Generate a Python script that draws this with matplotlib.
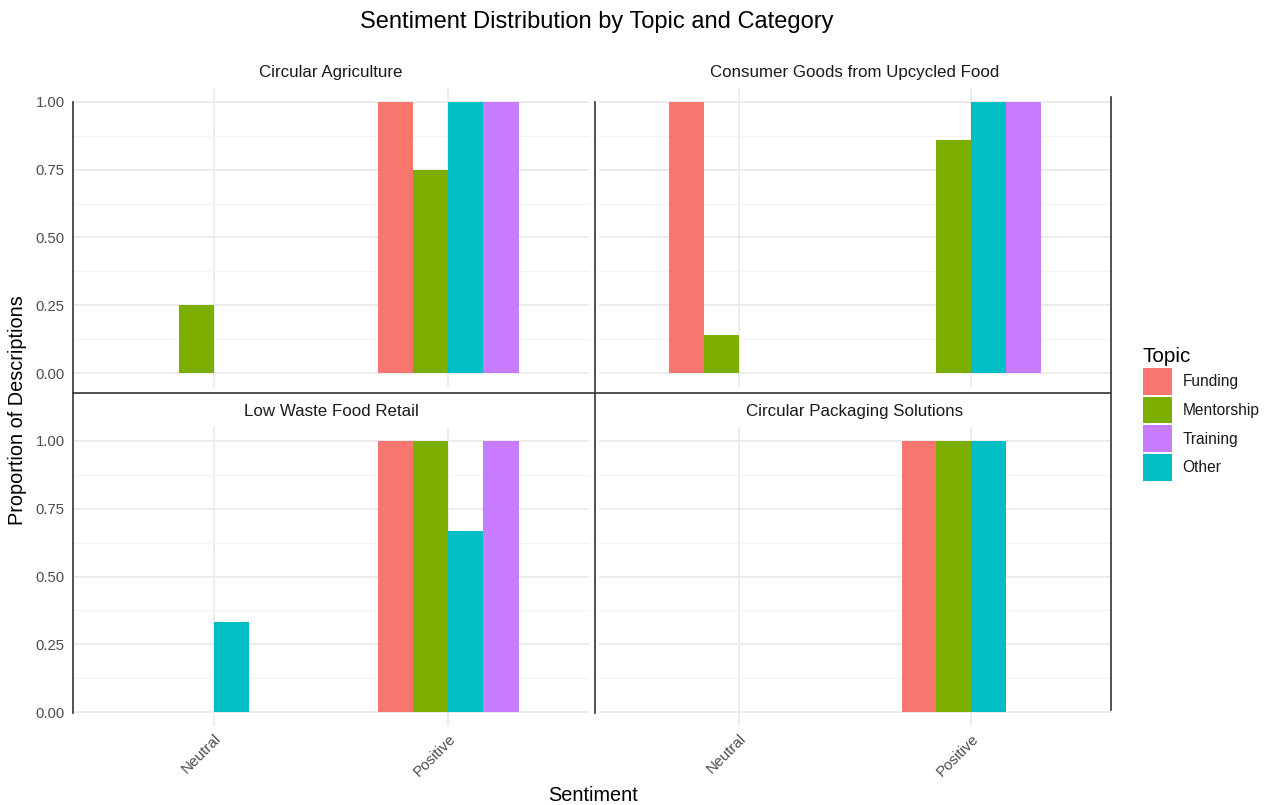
import numpy as np
import matplotlib
matplotlib.use('Agg')
import matplotlib.pyplot as plt
from matplotlib.patches import Patch
from matplotlib.lines import Line2D

plt.rcParams['font.family'] = ['Liberation Sans', 'DejaVu Sans']

# datos
sentiments = ['Neutral', 'Positive']
topics = ['Funding', 'Mentorship', 'Other', 'Training']      # orden de las barras (dodge)
legend_order = ['Funding', 'Mentorship', 'Training', 'Other']
colors = {'Funding': '#F8766D', 'Mentorship': '#7CAE00', 'Other': '#00BFC4', 'Training': '#C77CFF'}

panels = ['Circular Agriculture', 'Consumer Goods from Upcycled Food',
          'Low Waste Food Retail', 'Circular Packaging Solutions']

# proporciones [Neutral, Positive] por topic
circ_agri = {'Funding': [0, 1.0], 'Mentorship': [0.25, 0.75], 'Other': [0, 1.0], 'Training': [0, 1.0]}
consumer_goods = {'Funding': [1.0, 0], 'Mentorship': [0.143, 0.857], 'Other': [0, 1.0], 'Training': [0, 1.0]}
low_waste = {'Funding': [0, 1.0], 'Mentorship': [0, 1.0], 'Other': [0.333, 0.667], 'Training': [0, 1.0]}
circ_pack = {'Funding': [0, 1.0], 'Mentorship': [0, 1.0], 'Other': [0, 1.0], 'Training': [0, 0]}
panel_data = [circ_agri, consumer_goods, low_waste, circ_pack]

W, H = 1266, 805
fig = plt.figure(figsize=(W / 100, H / 100), dpi=100)


def rect(x0, y0, x1, y1):
    # pixeles (desde arriba) -> fraccion de figura
    return [x0 / W, 1 - y1 / H, (x1 - x0) / W, (y1 - y0) / H]


boxes = [rect(73, 88, 589, 387), rect(599, 88, 1111, 387),
         rect(73, 427, 589, 726), rect(599, 427, 1111, 726)]

x = np.arange(len(sentiments))
bw = 0.15
for i, (name, data, box) in enumerate(zip(panels, panel_data, boxes)):
    ax = fig.add_axes(box)
    for k, t in enumerate(topics):
        off = -0.3 + bw * (k + 0.5)
        ax.bar(x + off, data[t], width=bw, color=colors[t], zorder=3)
    ax.set_xlim(-0.6, 1.6)
    ax.set_ylim(-0.05, 1.05)
    ax.set_yticks([0, 0.25, 0.5, 0.75, 1.0])
    ax.set_yticks([0.125, 0.375, 0.625, 0.875], minor=True)
    ax.set_xticks(x)
    ax.grid(True, which='major', color='#EBEBEB', linewidth=1.3, zorder=0)
    ax.grid(True, which='minor', axis='y', color='#F3F3F3', linewidth=0.8, zorder=0)
    ax.tick_params(which='both', length=0)
    ax.tick_params(axis='y', pad=6)
    ax.tick_params(axis='x', pad=4)
    for s in ax.spines.values():
        s.set_visible(False)
    if i % 2 == 0:
        ax.set_yticklabels(['0.00', '0.25', '0.50', '0.75', '1.00'], fontsize=10.7, color='#4D4D4D')
    else:
        ax.set_yticklabels([])
    if i >= 2:
        ax.set_xticklabels(sentiments, rotation=45, ha='right', rotation_mode='anchor',
                           fontsize=11, color='#4D4D4D')
    else:
        ax.set_xticklabels([])
    ax.set_title(name, fontsize=12.2, color='#1A1A1A', pad=8)

# lineas negras entre paneles
def px(xp, yp):
    return xp / W, 1 - yp / H

line_color = '#333333'
for (xa, ya), (xb, yb) in [((73, 102), (73, 713)), ((595, 102), (595, 713)),
                           ((1111, 97), (1111, 710)), ((73, 393), (1110, 393))]:
    p0, p1 = px(xa, ya), px(xb, yb)
    fig.add_artist(Line2D([p0[0], p1[0]], [p0[1], p1[1]], color=line_color, linewidth=1.2))

fig.text(597 / W, 1 - 22 / H, 'Sentiment Distribution by Topic and Category',
         ha='center', va='center', fontsize=17)
fig.text(593 / W, 1 - 795 / H, 'Sentiment', ha='center', va='center', fontsize=14.3)
fig.text(18 / W, 1 - 410 / H, 'Proportion of Descriptions', ha='center', va='center',
         rotation=90, fontsize=14.3)

handles = [Patch(facecolor=colors[t], label=t) for t in legend_order]
leg = fig.legend(handles=handles, title='Topic', loc='upper left',
                 bbox_to_anchor=(1135 / W, 1 - 339 / H), frameon=False,
                 fontsize=11.2, title_fontsize=14.9, handlelength=1.86, handleheight=2.25,
                 labelspacing=0.14, handletextpad=0.7, borderpad=0, alignment='left')
for txt in leg.get_texts():
    txt.set_color('#1A1A1A')

fig.savefig('out.png', dpi=100, facecolor='white')
